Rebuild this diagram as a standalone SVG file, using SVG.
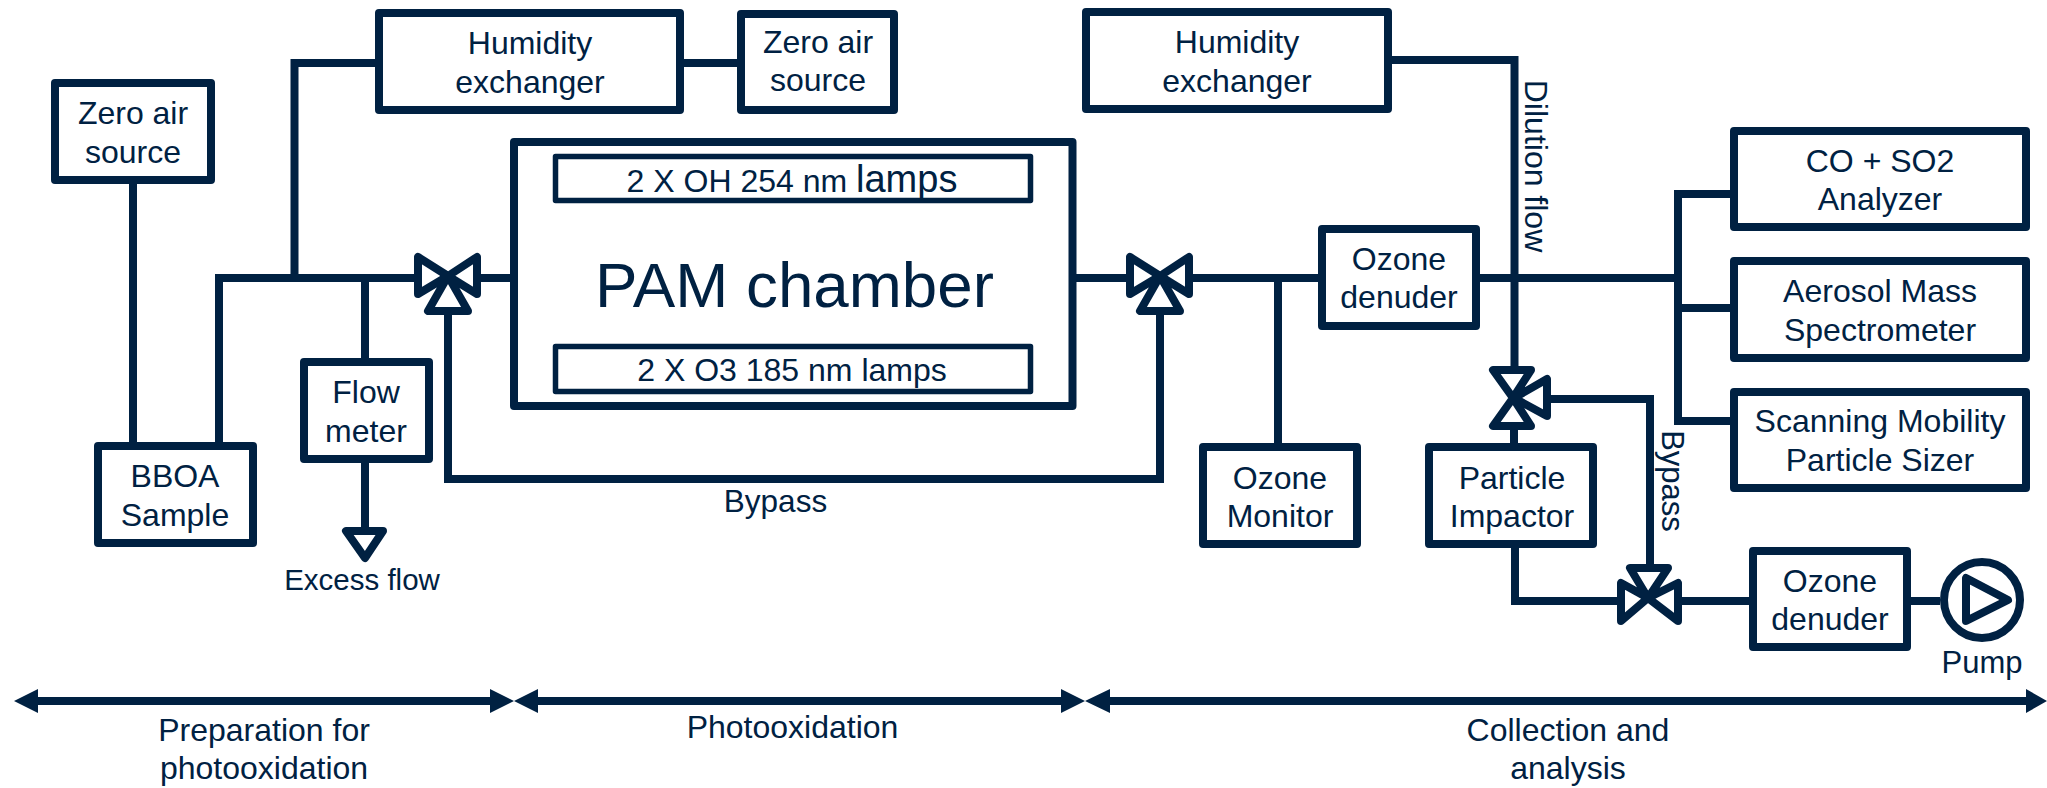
<svg xmlns="http://www.w3.org/2000/svg" width="2047" height="788" viewBox="0 0 2047 788">
<style>
text{font-family:"Liberation Sans",Arial,sans-serif;fill:#002142;font-size:32px;text-anchor:middle}
.box{fill:#fff;stroke:#002142;stroke-width:8;stroke-linejoin:round}
.thin{stroke-width:5.500}
.ln{fill:none;stroke:#002142;stroke-width:8;stroke-linejoin:miter}
.tri{fill:#fff;stroke:#002142;stroke-width:8;stroke-linejoin:round}
.ah{fill:#002142}
</style>
<defs>
<g id="valveT"><path class="tri" d="M-30-21V16L0-2ZM29-21V16L0-2ZM-20 33H20L0-2Z"/></g>
<g id="valveV"><path class="tri" d="M-21-28H17L-1 0ZM-21 28H17L-1 0ZM33-19V18L0 0Z"/></g>
<g id="valveB"><path class="tri" d="M-27-15V23L0 0ZM30-15V23L0 0ZM-18-30H20L0 0Z"/></g>
</defs>
<rect width="2047" height="788" fill="#fff"/>
<g id="connectors">
<path class="ln" d="M133 184V442M219 442V278H414M294.500 278V63H375M365 278V358M365 463V531M480 278H510M684 63H738M1075 278H1127M1192 278H1318M1278 278V443M448 311V479H1160V311M1480 278H1678M1392 60H1514.500V366M1678 278V194H1730M1678 278V421H1730M1678 308H1730M1514 430V443M1551 399H1650V564M1515 548V601H1617M1682 601H1749M1911 601H1940"/>
</g>
<g id="zero-air-left"><rect class="box" x="55" y="83" width="156" height="97"/><text x="133" y="124">Zero air</text><text x="133" y="163">source</text></g>
<g id="bboa"><rect class="box" x="98" y="446" width="155" height="97"/><text x="175" y="487">BBOA</text><text x="175" y="526">Sample</text></g>
<g id="humidity-left"><rect class="box" x="379" y="13" width="301" height="97"/><text x="530" y="54">Humidity</text><text x="530" y="93">exchanger</text></g>
<g id="zero-air-right"><rect class="box" x="741" y="14" width="153" height="96"/><text x="818" y="53">Zero air</text><text x="818" y="91">source</text></g>
<g id="flow-meter"><rect class="box" x="304" y="362" width="125" height="97"/><text x="366" y="403">Flow</text><text x="366" y="442">meter</text></g>
<g id="excess-flow"><path class="tri" d="M346 531H383L365 558Z"/><text x="362" y="590" style="font-size:29.500px">Excess flow</text></g>
<g id="pam"><rect class="box" x="514" y="142" width="558.500" height="264"/>
<rect class="box thin" x="555.500" y="156.500" width="475" height="44"/>
<text x="792" y="192">2 X OH 254 nm <tspan style="font-size:38px">lamps</tspan></text>
<rect class="box thin" x="555.500" y="346.500" width="475" height="45"/>
<text x="792" y="381">2 X O3 185 nm lamps</text>
<text x="794.500" y="307" style="font-size:63.700px">PAM chamber</text></g>
<g id="valve-1"><use href="#valveT" x="448" y="278"/></g>
<g id="valve-2"><use href="#valveT" x="1160" y="278"/></g>
<g id="valve-3"><use href="#valveV" x="1514" y="398"/></g>
<g id="valve-4"><use href="#valveB" x="1648" y="598"/></g>
<g id="bypass-label"><text x="775.500" y="512" style="font-size:31.500px">Bypass</text></g>
<g id="humidity-right"><rect class="box" x="1086" y="12" width="302" height="97"/><text x="1237" y="53">Humidity</text><text x="1237" y="92">exchanger</text></g>
<g id="dilution-label"><text transform="translate(1525 166) rotate(90)">Dilution flow</text></g>
<g id="ozone-denuder-1"><rect class="box" x="1322" y="229" width="154" height="97"/><text x="1399" y="270">Ozone</text><text x="1399" y="308">denuder</text></g>
<g id="ozone-monitor"><rect class="box" x="1203" y="447" width="154" height="97"/><text x="1280" y="489">Ozone</text><text x="1280" y="527">Monitor</text></g>
<g id="particle-impactor"><rect class="box" x="1429" y="447" width="164" height="97"/><text x="1512" y="489">Particle</text><text x="1512" y="527">Impactor</text></g>
<g id="bypass-label-2"><text transform="translate(1662 481) rotate(90)" style="font-size:31px">Bypass</text></g>
<g id="co-so2"><rect class="box" x="1734" y="131" width="292" height="96"/><text x="1880" y="172">CO + SO2</text><text x="1880" y="210">Analyzer</text></g>
<g id="ams"><rect class="box" x="1734" y="261" width="292" height="97"/><text x="1880" y="302">Aerosol Mass</text><text x="1880" y="341">Spectrometer</text></g>
<g id="smps"><rect class="box" x="1734" y="392" width="292" height="96"/><text x="1880" y="432">Scanning Mobility</text><text x="1880" y="471">Particle Sizer</text></g>
<g id="ozone-denuder-2"><rect class="box" x="1753" y="551" width="154" height="96"/><text x="1830" y="592">Ozone</text><text x="1830" y="630">denuder</text></g>
<g id="pump"><circle class="box" cx="1982" cy="600" r="38"/><path class="tri" d="M1966 578V621L2008 600Z"/><text x="1982" y="673" style="font-size:31px">Pump</text></g>
<g id="stage-preparation"><path class="ln" d="M30 701H500"/><path class="ah" d="M14 701L38 689V713ZM514 701L490 689V713Z"/><text x="264" y="741">Preparation for</text><text x="264" y="779">photooxidation</text></g>
<g id="stage-photooxidation"><path class="ln" d="M530 701H1070"/><path class="ah" d="M514 701L538 689V713ZM1085 701L1061 689V713Z"/><text x="792.500" y="738">Photooxidation</text></g>
<g id="stage-collection"><path class="ln" d="M1100 701H2035"/><path class="ah" d="M1085 701L1110 689V713ZM2047 701L2026 689V713Z"/><text x="1568" y="741">Collection and</text><text x="1568" y="779">analysis</text></g>
</svg>
